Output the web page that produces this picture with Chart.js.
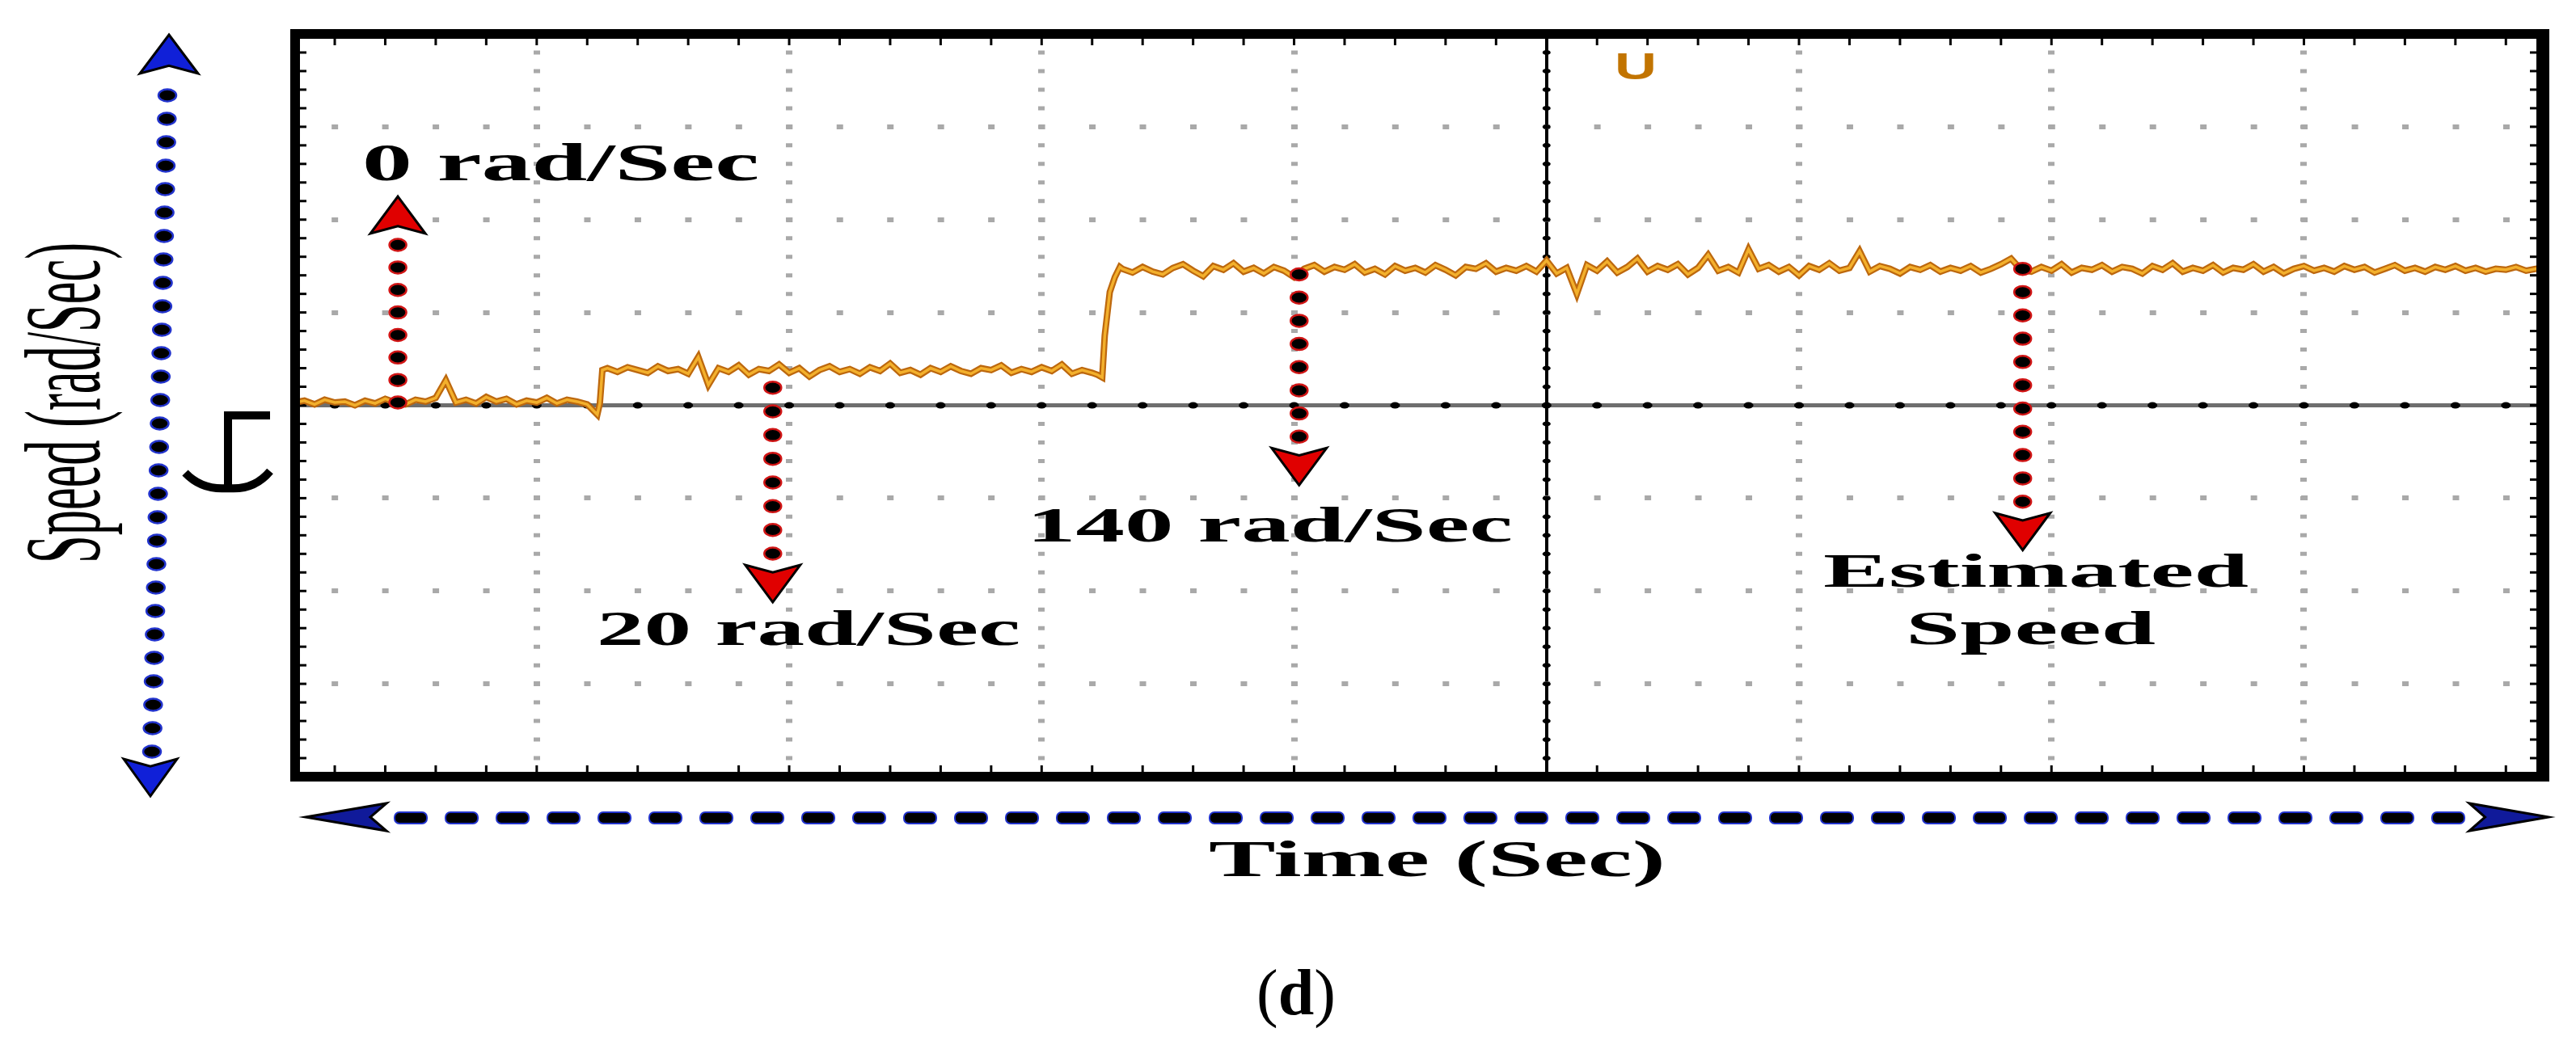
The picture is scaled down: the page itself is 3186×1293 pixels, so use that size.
<!DOCTYPE html>
<html>
<head>
<meta charset="utf-8">
<title>Estimated speed</title>
<script src="https://cdn.jsdelivr.net/npm/chart.js@4.4.1/dist/chart.umd.min.js"></script>
<style>
  html, body { margin: 0; padding: 0; background: #fff; overflow: hidden; }
  #wrap { width: 3186px; height: 1293px; }
</style>
</head>
<body>
<div id="wrap"><canvas id="speedChart" width="3186" height="1293"></canvas></div>
<script>
// Scope trace of the estimated speed, in screen divisions (x: time, y: speed)
const sampleTimes = [
    0.04, 0.08, 0.12, 0.16, 0.20, 0.24, 0.28, 0.32, 0.36, 0.40,
    0.44, 0.48, 0.52, 0.56, 0.60, 0.64, 0.68, 0.72, 0.76, 0.80,
    0.84, 0.88, 0.92, 0.96, 1.00, 1.04, 1.08, 1.12, 1.16, 1.20,
    1.24, 1.25, 1.26,
    1.28, 1.32, 1.36, 1.40, 1.44, 1.48, 1.52, 1.56, 1.60, 1.64,
    1.68, 1.72, 1.76, 1.80, 1.84, 1.88, 1.92, 1.96, 2.00, 2.04,
    2.08, 2.12, 2.16, 2.20, 2.24, 2.28, 2.32, 2.36, 2.40, 2.44,
    2.48, 2.52, 2.56, 2.60, 2.64, 2.68, 2.72, 2.76, 2.80, 2.84,
    2.88, 2.92, 2.96, 3.00, 3.04, 3.08, 3.12, 3.16, 3.20,
    3.22, 3.24, 3.25, 3.27, 3.29, 3.31,
    3.32, 3.36, 3.40, 3.44, 3.48, 3.52, 3.56, 3.60, 3.64, 3.68,
    3.72, 3.76, 3.80, 3.84, 3.88, 3.92, 3.96, 4.00, 4.04, 4.08,
    4.12, 4.16, 4.20, 4.24, 4.28, 4.32, 4.36, 4.40, 4.44, 4.48,
    4.52, 4.56, 4.60, 4.64, 4.68, 4.72, 4.76, 4.80, 4.84, 4.88,
    4.92, 4.96, 5.00, 5.04, 5.08, 5.12, 5.16, 5.20, 5.24, 5.28,
    5.32, 5.36, 5.40, 5.44, 5.48, 5.52, 5.56, 5.60, 5.64, 5.68,
    5.72, 5.76, 5.80, 5.84, 5.88, 5.92, 5.96, 6.00, 6.04, 6.08,
    6.12, 6.16, 6.20, 6.24, 6.28, 6.32, 6.36, 6.40, 6.44, 6.48,
    6.52, 6.56, 6.60, 6.64, 6.68, 6.72, 6.76, 6.80, 6.84, 6.88,
    6.92, 6.96, 7.00, 7.04, 7.08, 7.12, 7.16, 7.20, 7.24, 7.28,
    7.32, 7.36, 7.40, 7.44, 7.48, 7.52, 7.56, 7.60, 7.64, 7.68,
    7.72, 7.76, 7.80, 7.84, 7.88, 7.92, 7.96, 8.00, 8.04, 8.08,
    8.12, 8.16, 8.20, 8.24, 8.28, 8.32, 8.36, 8.40, 8.44, 8.48,
    8.52, 8.56, 8.60, 8.64, 8.68, 8.72, 8.76, 8.80, 8.84, 8.88,
    8.92, 8.94
];

const speedLevels = [
    // 0 rad/Sec
    0.03, 0.05, 0.01, 0.06, 0.03, 0.04, 0.00, 0.05, 0.02, 0.07,
    0.03, 0.01, 0.06, 0.04, 0.08, 0.27, 0.03, 0.06, 0.02, 0.09,
    0.04, 0.07, 0.01, 0.05, 0.03, 0.08, 0.02, 0.06, 0.04, 0.01,
    -0.10, 0.02, 0.38,
    // 20 rad/Sec
    0.40, 0.36, 0.41, 0.38, 0.35, 0.42, 0.37, 0.39, 0.34, 0.52,
    0.22, 0.40, 0.36, 0.43, 0.33, 0.39, 0.37, 0.44, 0.35, 0.40,
    0.31, 0.38, 0.42, 0.36, 0.39, 0.34, 0.41, 0.37, 0.45, 0.35,
    0.38, 0.33, 0.40, 0.36, 0.42, 0.37, 0.34, 0.40, 0.38, 0.43,
    0.35, 0.39, 0.36, 0.41, 0.37, 0.44, 0.34, 0.38, 0.35,
    0.33, 0.30, 0.75, 1.22, 1.38, 1.49,
    // 140 rad/Sec
    1.47, 1.43, 1.49, 1.44, 1.41, 1.48, 1.52, 1.45, 1.39, 1.50,
    1.46, 1.53, 1.44, 1.48, 1.42, 1.49, 1.45, 1.38, 1.47, 1.51,
    1.44, 1.49, 1.46, 1.52, 1.43, 1.47, 1.41, 1.50, 1.45, 1.48,
    1.43, 1.51, 1.46, 1.40, 1.49, 1.47, 1.53, 1.44, 1.48, 1.45,
    1.50, 1.44, 1.56, 1.42, 1.48, 1.20, 1.51, 1.45, 1.55, 1.43,
    1.49, 1.58, 1.44, 1.50, 1.46, 1.52, 1.41, 1.48, 1.62, 1.45,
    1.49, 1.43, 1.68, 1.47, 1.51, 1.44, 1.49, 1.40, 1.50, 1.46,
    1.53, 1.45, 1.48, 1.66, 1.44, 1.50, 1.47, 1.42, 1.49, 1.46,
    1.51, 1.44, 1.48, 1.45, 1.50, 1.43, 1.47, 1.52, 1.58, 1.46,
    1.44, 1.49, 1.45, 1.52, 1.43, 1.48, 1.46, 1.51, 1.44, 1.49,
    1.47, 1.42, 1.50, 1.46, 1.53, 1.44, 1.48, 1.45, 1.51, 1.43,
    1.48, 1.46, 1.52, 1.44, 1.49, 1.42, 1.47, 1.50, 1.45, 1.48,
    1.44, 1.50, 1.46, 1.49, 1.43, 1.47, 1.51, 1.45, 1.48, 1.44,
    1.49, 1.46, 1.50, 1.45, 1.48, 1.44, 1.47, 1.46, 1.49, 1.45,
    1.47, 1.46
];

// Annotation arrows (divisions): x position, start level, tip level
const arrowX = [0.45, 1.935, 4.02, 6.886];
const arrowFrom = [0.03, 0.19, 1.41, 1.47];
const arrowTo = [2.25, -2.12, -0.86, -1.56];

const annotationTexts = ['0 rad/Sec', '20 rad/Sec', '140 rad/Sec', 'Estimated', 'Speed'];
const yTitle = 'Speed (rad/Sec)';
const xTitle = 'Time (Sec)';

const xRange = [0.043, 8.94];
const yRange = [-4, 4];

// text placement (pixels): left edge, baseline, stretched width, font size
const labelBoxes = [
    { left: 448, base: 223, width: 491, size: 66 },
    { left: 738, base: 798, width: 524, size: 62 },
    { left: 1270, base: 670, width: 601, size: 62 },
    { left: 2255, base: 726, width: 526, size: 60 },
    { left: 2357, base: 797, width: 309, size: 60 }
];

const SERIF = '"Liberation Serif", "Times New Roman", serif';

function stretchedText(ctx, text, x, y, font, width) {
    ctx.save();
    ctx.font = font;
    const w = ctx.measureText(text).width;
    ctx.translate(x, y);
    ctx.scale(width / w, 1);
    ctx.textAlign = 'left';
    ctx.textBaseline = 'alphabetic';
    ctx.fillText(text, 0, 0);
    ctx.restore();
}

function arrowHead(ctx, tx, ty, dx, dy, len, half, fill) {
    const bx = tx - dx * len, by = ty - dy * len;
    const nx = tx - dx * len * 0.8, ny = ty - dy * len * 0.8;
    const px = -dy, py = dx;
    ctx.beginPath();
    ctx.moveTo(tx, ty);
    ctx.lineTo(bx + px * half, by + py * half);
    ctx.lineTo(nx, ny);
    ctx.lineTo(bx - px * half, by - py * half);
    ctx.closePath();
    ctx.fillStyle = fill;
    ctx.fill();
    ctx.lineWidth = 3;
    ctx.strokeStyle = '#000';
    ctx.stroke();
}

function dotLine(ctx, x1, y1, x2, y2, step, rx, ry, edge) {
    const len = Math.hypot(x2 - x1, y2 - y1);
    const n = Math.max(1, Math.round(len / step));
    for (let i = 0; i <= n; i++) {
        const x = x1 + (x2 - x1) * i / n;
        const y = y1 + (y2 - y1) * i / n;
        ctx.beginPath();
        ctx.ellipse(x, y, rx, ry, 0, 0, Math.PI * 2);
        ctx.fillStyle = '#000';
        ctx.fill();
        ctx.lineWidth = 2.5;
        ctx.strokeStyle = edge;
        ctx.stroke();
    }
}

// center lines carry small black minor marks like the scope graticule
const graticulePlugin = {
    id: 'graticule',
    beforeDatasetsDraw(chart) {
        const { ctx, chartArea, scales } = chart;
        const xs = scales.x, ys = scales.y;
        const y0 = ys.getPixelForValue(0);
        const x5 = xs.getPixelForValue(5);
        ctx.save();
        ctx.fillStyle = '#000';
        for (let m = 1; m < 45; m++) {
            const px = xs.getPixelForValue(m / 5);
            if (px <= chartArea.left + 4 || px >= chartArea.right - 4) continue;
            ctx.beginPath();
            ctx.ellipse(px, y0, 6, 4, 0, 0, Math.PI * 2);
            ctx.fill();
            ctx.fillRect(px - 1.5, chartArea.top + 5, 3, 9);
            ctx.fillRect(px - 1.5, chartArea.bottom - 14, 3, 9);
        }
        for (let m = -19; m <= 19; m++) {
            const py = ys.getPixelForValue(m / 5);
            ctx.beginPath();
            ctx.ellipse(x5, py, 5, 3, 0, 0, Math.PI * 2);
            ctx.fill();
            ctx.fillRect(chartArea.left + 5, py - 1.5, 9, 3);
            ctx.fillRect(chartArea.right - 14, py - 1.5, 9, 3);
        }
        ctx.restore();
    }
};

const decorPlugin = {
    id: 'decor',
    afterDraw(chart) {
        const { ctx, chartArea, scales } = chart;
        const { left, top, right, bottom } = chartArea;
        ctx.save();

        // frame
        ctx.strokeStyle = '#000';
        ctx.lineWidth = 12;
        ctx.strokeRect(left, top, right - left, bottom - top);
        ctx.lineWidth = 10;
        ctx.beginPath();
        ctx.moveTo(right + 5, top - 6);
        ctx.lineTo(right + 5, bottom + 6);
        ctx.stroke();

        // red annotation arrows
        arrowX.forEach((v, i) => {
            const px = scales.x.getPixelForValue(v);
            const pFrom = scales.y.getPixelForValue(arrowFrom[i]);
            const pTip = scales.y.getPixelForValue(arrowTo[i]);
            const dir = pTip < pFrom ? -1 : 1;
            const headLen = 46;
            dotLine(ctx, px, pFrom, px, pTip - dir * (headLen + 14), 29, 10.5, 7.5, '#d01515');
            arrowHead(ctx, px, pTip, 0, dir, headLen, 34, '#e00000');
        });

        // annotation texts
        ctx.fillStyle = '#000';
        annotationTexts.forEach((t, i) => {
            const b = labelBoxes[i];
            stretchedText(ctx, t, b.left, b.base, 'bold ' + b.size + 'px ' + SERIF, b.width);
        });

        // trigger marker
        ctx.fillStyle = '#c27400';
        stretchedText(ctx, 'U', 1997, 98, 'bold 46px "Liberation Sans", Arial, sans-serif', 52);

        // ground reference marker
        ctx.strokeStyle = '#000';
        ctx.lineWidth = 10;
        ctx.lineCap = 'butt';
        ctx.beginPath();
        ctx.moveTo(334, 514);
        ctx.lineTo(282, 514);
        ctx.lineTo(282, 600);
        ctx.stroke();
        ctx.beginPath();
        ctx.moveTo(229, 585);
        ctx.quadraticCurveTo(250, 607, 282, 604);
        ctx.quadraticCurveTo(314, 607, 334, 583);
        ctx.stroke();

        // vertical axis arrow (blue)
        dotLine(ctx, 207, 118, 188, 930, 29, 11, 7.5, '#2233cc');
        arrowHead(ctx, 209, 43, 0, -1, 48, 36, '#1020d8');
        arrowHead(ctx, 186, 985, 0, 1, 46, 33, '#1020d8');

        // horizontal axis arrow (blue dashes)
        for (let x = 488; x + 40 <= 3048; x += 63) {
            ctx.beginPath();
            ctx.roundRect(x, 1005, 40, 14, 6);
            ctx.fillStyle = '#000';
            ctx.fill();
            ctx.lineWidth = 2;
            ctx.strokeStyle = '#2233cc';
            ctx.stroke();
        }
        arrowHead(ctx, 378, 1011, -1, 0, 100, 17, '#101a9a');
        arrowHead(ctx, 3152, 1011, 1, 0, 98, 17, '#101a9a');

        // axis titles
        ctx.fillStyle = '#000';
        stretchedText(ctx, xTitle, 1495, 1084, 'bold 64px ' + SERIF, 565);
        ctx.save();
        ctx.translate(123, 697);
        ctx.rotate(-Math.PI / 2);
        stretchedText(ctx, yTitle, 0, 0, '133px ' + SERIF, 397);
        ctx.restore();

        // panel caption (d): thin brackets, bold letter
        ctx.font = 'normal 80px ' + SERIF;
        const wp = ctx.measureText('(').width;
        ctx.font = 'bold 80px ' + SERIF;
        const wd = ctx.measureText('d').width;
        const cx = 1603 - (2 * wp + wd) / 2;
        ctx.textAlign = 'left';
        ctx.textBaseline = 'alphabetic';
        ctx.font = 'normal 80px ' + SERIF;
        ctx.fillText('(', cx, 1255);
        ctx.fillText(')', cx + wp + wd, 1255);
        ctx.font = 'bold 80px ' + SERIF;
        ctx.fillText('d', cx + wp, 1255);

        ctx.restore();
    }
};

const traceData = sampleTimes.map((t, i) => ({ x: t, y: speedLevels[i] }));

const ctx = document.getElementById('speedChart').getContext('2d');

new Chart(ctx, {
    type: 'line',
    data: {
        datasets: [{
            label: 'Estimated Speed',
            data: traceData,
            borderColor: '#f3b02c',
            borderWidth: 3.5,
            pointRadius: 0,
            tension: 0,
            order: 0
        }, {
            label: 'Estimated Speed (edge)',
            data: traceData,
            borderColor: '#bd680e',
            borderWidth: 8,
            pointRadius: 0,
            tension: 0,
            order: 1
        }]
    },
    options: {
        responsive: false,
        animation: false,
        devicePixelRatio: 1,
        events: [],
        layout: {
            padding: { left: 365, top: 42, right: 43, bottom: 332 }
        },
        plugins: {
            legend: { display: false },
            tooltip: { enabled: false }
        },
        scales: {
            x: {
                type: 'linear',
                min: xRange[0],
                max: xRange[1],
                ticks: { display: false, stepSize: 1 },
                afterBuildTicks: s => {
                    s.ticks = s.ticks.filter(t => Number.isInteger(t.value) && t.value > s.min && t.value < s.max);
                },
                grid: {
                    drawTicks: false,
                    color: c => (c.tick && c.tick.value === 5) ? '#000' : '#a9a9a9',
                    lineWidth: c => (c.tick && c.tick.value === 5) ? 4 : 8
                },
                border: {
                    display: false,
                    dash: c => (c.tick && c.tick.value === 5) ? [] : [5, 17.975],
                    dashOffset: 2.5
                }
            },
            y: {
                type: 'linear',
                min: yRange[0],
                max: yRange[1],
                ticks: { display: false, stepSize: 1 },
                grid: {
                    drawTicks: false,
                    color: c => (c.tick && c.tick.value === 0) ? '#6e6e6e' : '#a9a9a9',
                    lineWidth: c => (c.tick && c.tick.value === 0) ? 5 : 6
                },
                border: {
                    display: false,
                    dash: c => (c.tick && c.tick.value === 0) ? [] : [8, 54.46],
                    dashOffset: 17.3
                }
            }
        }
    },
    plugins: [graticulePlugin, decorPlugin]
});
</script>
</body>
</html>
